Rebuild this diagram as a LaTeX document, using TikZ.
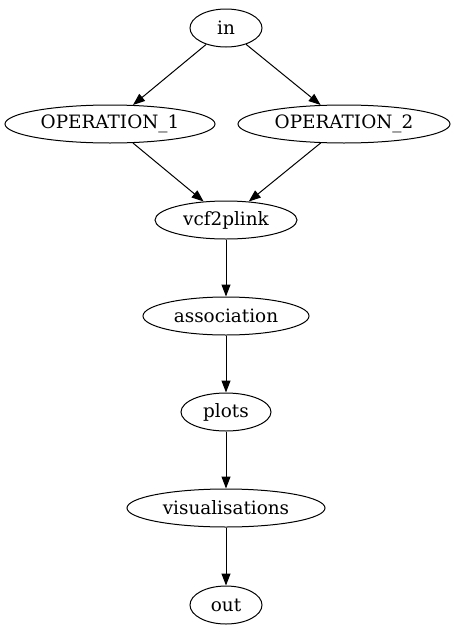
\documentclass[tikz,border=0pt]{standalone}
\usepackage{fontspec}
\setmainfont{DejaVu Serif}
\usetikzlibrary{shapes.geometric,arrows.meta}
\begin{document}
\begin{tikzpicture}[x=1pt,y=1pt,
  nd/.style={draw,ellipse,line width=1pt,inner sep=0pt,minimum height=38pt,font=\fontsize{18.4}{20}\selectfont},
  edge/.style={-{Triangle[length=12pt,width=9pt]},line width=1pt}]
\useasboundingbox (0,0) rectangle (454,-635);
\node[nd,minimum width=72pt] (in) at (226,-28) {in};
\node[nd,minimum width=210pt] (op1) at (110,-124) {OPERATION\_1};
\node[nd,minimum width=212pt] (op2) at (344,-124) {OPERATION\_2};
\node[nd,minimum width=142pt] (vcf) at (226,-220) {vcf2plink};
\node[nd,minimum width=166pt] (assoc) at (226,-316) {association};
\node[nd,minimum width=90pt] (plots) at (226,-412) {plots};
\node[nd,minimum width=198pt] (vis) at (226,-508) {visualisations};
\node[nd,minimum width=72pt] (out) at (226,-605) {out};
\draw[edge] (in) -- (op1);
\draw[edge] (in) -- (op2);
\draw[edge] (op1) -- (vcf);
\draw[edge] (op2) -- (vcf);
\draw[edge] (vcf) -- (assoc);
\draw[edge] (assoc) -- (plots);
\draw[edge] (plots) -- (vis);
\draw[edge] (vis) -- (out);
\end{tikzpicture}
\end{document}
